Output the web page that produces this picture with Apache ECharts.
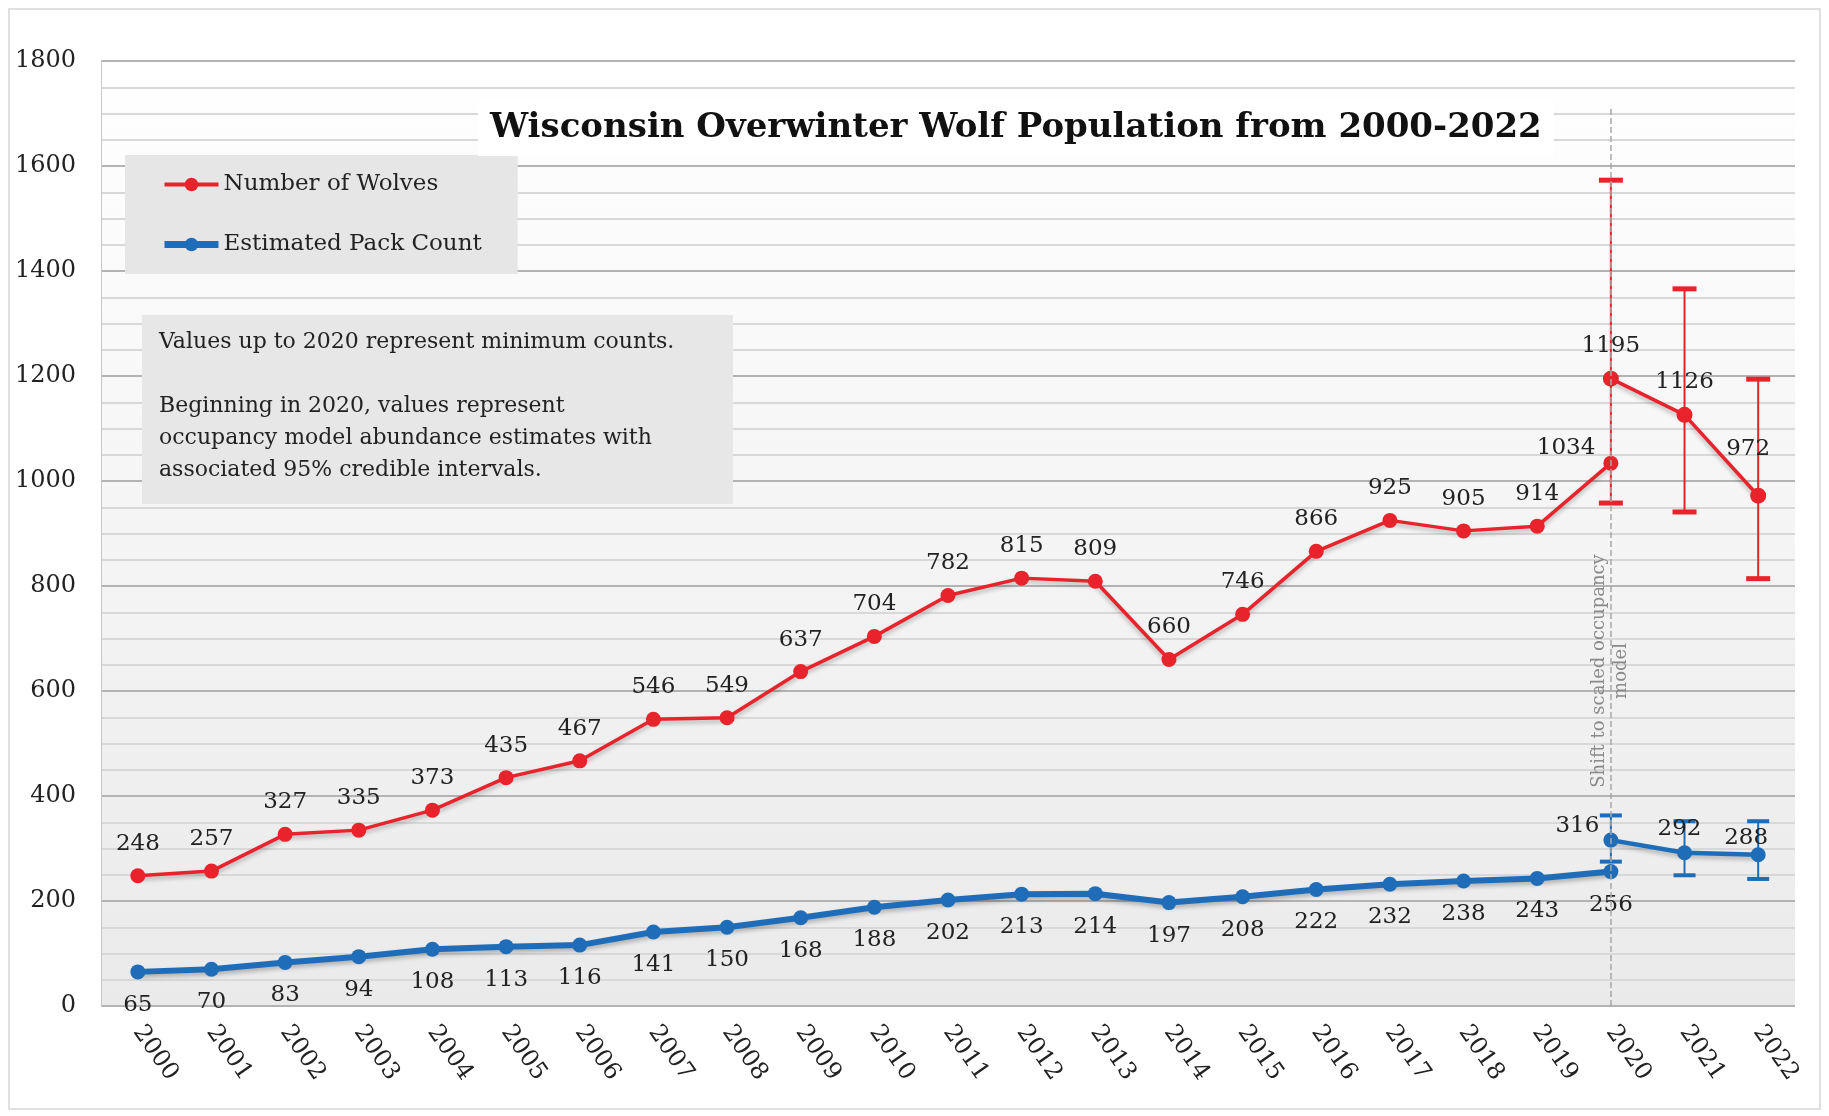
<!DOCTYPE html>
<html>
<head>
<meta charset="utf-8">
<script src="https://cdn.jsdelivr.net/npm/echarts@6/dist/echarts.min.js"></script>
<style>html,body{margin:0;padding:0;background:#fff;}#c{width:1829px;height:1116px;}</style>
</head>
<body>
<div id="c"></div>
<script>
// ---- data ----
const years = ['2000','2001','2002','2003','2004','2005','2006','2007','2008','2009','2010','2011','2012','2013','2014','2015','2016','2017','2018','2019','2020','2021','2022'];
const countYears = ['2000','2001','2002','2003','2004','2005','2006','2007','2008','2009','2010','2011','2012','2013','2014','2015','2016','2017','2018','2019','2020'];
const wolves = [248,257,327,335,373,435,467,546,549,637,704,782,815,809,660,746,866,925,905,914,1034];
const packs = [65,70,83,94,108,113,116,141,150,168,188,202,213,214,197,208,222,232,238,243,256];
const estYears = ['2020','2021','2022'];
const wolfEst = [1195,1126,972];
const wolfLow = [958,941,814];
const wolfHigh = [1573,1366,1194];
const packEst = [316,292,288];
const packLow = [275,249,242];
const packHigh = [363,352,352];
const yMin = 0, yMax = 1800, yStep = 200;
const modelShiftYear = '2020';
const modelShiftTop = 1715;

// ---- style ----
const FONT = 'DejaVu Serif';
const RED = '#e8232b';
const BLUE = '#1f6db8';
const TXT = '#222';

const labelTweaks = {
  wolf: { '2020': { position: 'left', distance: 8, offset: [0, -15] } },
  wolfEst: { '2022': { position: 'top', offset: [-10, -14] } },
  packEst: { '2020': { position: 'left', distance: 4, offset: [0, -14] },
             '2021': { position: 'top', offset: [-5, 8] },
             '2022': { position: 'top', offset: [-12, 15] } }
};

function build(yrs, vals, tweaks) {
  return yrs.map((y, i) => {
    const item = { value: [y, vals[i]] };
    if (tweaks && tweaks[y]) item.label = tweaks[y];
    return item;
  });
}
function bars(yrs, lo, hi) {
  return yrs.map((y, i) => [years.indexOf(y), lo[i], hi[i]]);
}
function errRender(color, capW, capH, lw) {
  return function (params, api) {
    const x = api.value(0);
    const p1 = api.coord([x, api.value(1)]);
    const p2 = api.coord([x, api.value(2)]);
    return {
      type: 'group',
      children: [
        { type: 'line', shape: { x1: p1[0], y1: p1[1], x2: p2[0], y2: p2[1] }, style: { stroke: color, lineWidth: lw } },
        { type: 'rect', shape: { x: p1[0] - capW / 2, y: p1[1] - capH / 2, width: capW, height: capH }, style: { fill: color } },
        { type: 'rect', shape: { x: p2[0] - capW / 2, y: p2[1] - capH / 2, width: capW, height: capH }, style: { fill: color } }
      ]
    };
  };
}

const labelBase = { show: true, fontFamily: FONT, fontSize: 23, color: TXT };
const shadow = { shadowColor: 'rgba(0,0,0,0.25)', shadowBlur: 4, shadowOffsetY: 3 };

const chart = echarts.init(document.getElementById('c'), null, { renderer: 'canvas' });
const option = {
  animation: false,
  backgroundColor: '#fff',
  title: {
    text: 'Wisconsin Overwinter Wolf Population from 2000-2022',
    left: 478, top: 100, padding: [11, 12],
    backgroundColor: '#fff',
    textStyle: { fontFamily: FONT, fontWeight: 'bold', fontSize: 34, color: '#111' }
  },
  legend: {
    data: [
      { name: 'Number of Wolves', lineStyle: { width: 4 } },
      { name: 'Estimated Pack Count', lineStyle: { width: 7 } }
    ],
    orient: 'vertical', left: 125, top: 155,
    padding: [18, 36, 18, 36], itemGap: 37,
    itemWidth: 54, itemHeight: 17,
    backgroundColor: '#e6e6e6',
    textStyle: { fontFamily: FONT, fontSize: 23, color: TXT }
  },
  grid: {
    left: 101, right: 34, top: 61, bottom: 110, show: true, borderWidth: 0,
    backgroundColor: { type: 'linear', x: 0, y: 0, x2: 0, y2: 1,
      colorStops: [{ offset: 0, color: '#ffffff' }, { offset: 1, color: '#eaeaea' }] }
  },
  xAxis: {
    type: 'category', data: years, boundaryGap: true,
    axisLine: { show: false }, axisTick: { show: false },
    axisLabel: { rotate: -55, fontFamily: FONT, fontSize: 24, color: TXT, margin: 22 }
  },
  yAxis: {
    type: 'value', min: yMin, max: yMax, interval: yStep,
    axisLine: { show: true, lineStyle: { color: '#c8c8c8', width: 1 } },
    axisTick: { show: false },
    axisLabel: { fontFamily: FONT, fontSize: 24, color: TXT, margin: 25, formatter: v => String(v) },
    splitLine: { lineStyle: { color: '#b3b3b3', width: 2 } },
    minorTick: { show: false, splitNumber: 4 },
    minorSplitLine: { show: true, lineStyle: { color: '#d8d8d8', width: 2 } }
  },
  graphic: [
    { type: 'rect', z: 10, left: 142, top: 315, shape: { width: 591, height: 189 }, style: { fill: '#e7e7e7' } },
    { type: 'text', z: 11, left: 159, top: 326, style: {
        text: 'Values up to 2020 represent minimum counts.\n\nBeginning in 2020, values represent\noccupancy model abundance estimates with\nassociated 95% credible intervals.',
        font: '22px "DejaVu Serif"', fill: TXT, lineHeight: 32 } },
    {
      type: 'text', z: 11, x: 1610, y: 671, rotation: Math.PI / 2,
      style: { text: 'Shift to scaled occupancy\nmodel', font: '18px "DejaVu Serif"', fill: '#8a8a8a',
               align: 'center', verticalAlign: 'middle', lineHeight: 22 }
    },
    {
      type: 'rect', z: -1, silent: true,
      shape: { x: 9, y: 9, width: 1811, height: 1100 },
      style: { fill: 'none', stroke: '#e0e0e0', lineWidth: 2 }
    }
  ],
  series: [
    {
      name: 'Number of Wolves', type: 'line', data: build(countYears, wolves, labelTweaks.wolf),
      color: RED, symbol: 'circle', symbolSize: 15,
      lineStyle: Object.assign({ width: 3.5, color: RED }, shadow),
      itemStyle: { color: RED },
      label: Object.assign({ position: 'top', distance: 13 }, labelBase), z: 4
    },
    {
      name: 'Wolves estimate', type: 'line', data: build(estYears, wolfEst, labelTweaks.wolfEst),
      color: RED, symbol: 'circle', symbolSize: 16,
      lineStyle: Object.assign({ width: 3.5, color: RED }, shadow),
      itemStyle: { color: RED },
      label: Object.assign({ position: 'top', distance: 13 }, labelBase), z: 4,
      markLine: {
        silent: true, symbol: 'none', label: { show: false },
        lineStyle: { type: 'dashed', color: '#a8a8a8', width: 1.5 },
        data: [[{ coord: [modelShiftYear, yMin] }, { coord: [modelShiftYear, modelShiftTop] }]]
      }
    },
    {
      name: 'Estimated Pack Count', type: 'line', data: build(countYears, packs),
      color: BLUE, symbol: 'circle', symbolSize: 15,
      lineStyle: Object.assign({ width: 6, color: BLUE }, shadow),
      itemStyle: { color: BLUE },
      label: Object.assign({ position: 'bottom', distance: 14 }, labelBase), z: 4
    },
    {
      name: 'Pack estimate', type: 'line', data: build(estYears, packEst, labelTweaks.packEst),
      color: BLUE, symbol: 'circle', symbolSize: 15,
      lineStyle: Object.assign({ width: 4.5, color: BLUE }, shadow),
      itemStyle: { color: BLUE },
      label: Object.assign({ position: 'top', distance: 13 }, labelBase), z: 4
    },
    {
      name: 'Wolves interval', type: 'custom', data: bars(estYears, wolfLow, wolfHigh),
      encode: { x: 0, y: [1, 2] }, renderItem: errRender(RED, 24, 5, 2), z: 3
    },
    {
      name: 'Pack interval', type: 'custom', data: bars(estYears, packLow, packHigh),
      encode: { x: 0, y: [1, 2] }, renderItem: errRender(BLUE, 22, 4, 2), z: 3
    }
  ]
};
chart.setOption(option);
</script>
</body>
</html>
